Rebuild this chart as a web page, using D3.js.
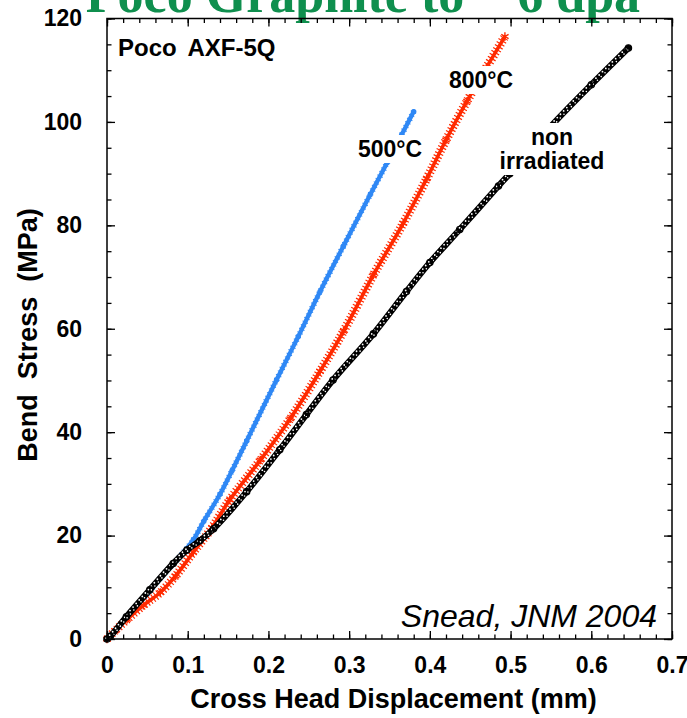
<!DOCTYPE html>
<html><head><meta charset="utf-8">
<script src="https://cdn.jsdelivr.net/npm/d3@7"></script>
<style>body{margin:0;background:#fff}svg{display:block}</style>
</head><body>
<svg id="c" width="687" height="718"></svg>
<script>
// ---- data ----
const xTicks = [0, 0.1, 0.2, 0.3, 0.4, 0.5, 0.6, 0.7];
const yTicks = [0, 20, 40, 60, 80, 100, 120];

// 500°C irradiated
const x500 = [0, 0.01, 0.03, 0.05, 0.07, 0.09, 0.107, 0.12, 0.14, 0.155, 0.173, 0.21, 0.237, 0.264, 0.293, 0.326, 0.347, 0.365, 0.38];
const y500 = [0, 1.5, 5.2, 8.8, 12.5, 15.9, 19.2, 22.8, 28.0, 32.6, 38.3, 50.1, 58.5, 67.2, 76.0, 85.9, 92.1, 97.5, 102];
// 800°C irradiated
const x800 = [0, 0.01, 0.025, 0.045, 0.066, 0.085, 0.107, 0.13, 0.152, 0.19, 0.227, 0.264, 0.293, 0.33, 0.367, 0.396, 0.42, 0.446, 0.47, 0.493];
const y800 = [0, 1.6, 3.8, 6.5, 9.0, 12.2, 16.8, 21.5, 26.9, 34.6, 42.6, 51.8, 59.5, 70.4, 80.4, 89.0, 96.5, 104, 110.5, 116.5];
// non irradiated
const xNon = [0, 0.004, 0.024, 0.053, 0.082, 0.099, 0.115, 0.132, 0.173, 0.214, 0.247, 0.28, 0.33, 0.371, 0.40, 0.437, 0.485, 0.499, 0.549, 0.60, 0.646];
const yNon = [0, 0.5, 4.3, 9.5, 14.6, 17.2, 19.0, 21.3, 28.5, 36.6, 43.4, 50.1, 59.0, 67.2, 72.8, 79.2, 87.6, 90.0, 99.0, 107.2, 114.3];

const titleText = "Poco Graphite to ~ 6 dpa";
const xTitle = "Cross Head Displacement (mm)";
const yTitle = "Bend  Stress  (MPa)";

// ---- drawing ----
const svg = d3.select("#c");
const x = d3.scaleLinear().domain([0, 0.7]).range([107, 672]);
const y = d3.scaleLinear().domain([0, 120]).range([639, 18.5]);
const SANS = "'Liberation Sans', Arial, Helvetica, sans-serif";

// title (cut off at top as in reference)
svg.append("text").attr("x", 363).attr("y", 12).attr("text-anchor", "middle")
  .attr("font-family", "'Liberation Serif', 'Times New Roman', serif").attr("font-weight", "bold")
  .attr("font-size", 52).attr("fill", "#0f8f4e").text(titleText);

const line = d3.line().x(d => x(d[0])).y(d => y(d[1])).curve(d3.curveCatmullRom.alpha(0.5));
const d500 = d3.zip(x500, y500), d800 = d3.zip(x800, y800), dNon = d3.zip(xNon, yNon);

const plot = svg.append("g");
// blue 500°C
plot.append("path").datum(d500).attr("d", line).attr("fill", "none")
  .attr("stroke", "#2f88f5").attr("stroke-width", 4.4).attr("stroke-linejoin", "round").attr("stroke-linecap", "round");
plot.append("path").datum(d500).attr("d", line).attr("fill", "none")
  .attr("stroke", "#2f88f5").attr("stroke-width", 6).attr("stroke-dasharray", "1 3");
plot.append("g").selectAll("circle").data(d500).join("circle")
  .attr("cx", d => x(d[0])).attr("cy", d => y(d[1])).attr("r", 2.7).attr("fill", "#2f88f5");

// red 800°C
plot.append("path").datum(d800).attr("d", line).attr("fill", "none")
  .attr("stroke", "#ff2a00").attr("stroke-width", 3.6).attr("stroke-linejoin", "round");
plot.append("path").datum(d800).attr("d", line).attr("fill", "none")
  .attr("stroke", "#ff2a00").attr("stroke-width", 9).attr("stroke-dasharray", "1.2 2.2");
const star = d3.symbol().type(d3.symbolAsterisk).size(50);
plot.append("g").selectAll("path").data(d800).join("path")
  .attr("transform", d => `translate(${x(d[0])},${y(d[1])})`).attr("d", star)
  .attr("fill", "none").attr("stroke", "#ff2a00").attr("stroke-width", 1.4);

// black non irradiated (open circles)
plot.append("path").datum(dNon).attr("d", line).attr("fill", "none")
  .attr("stroke", "#000").attr("stroke-width", 6.2).attr("stroke-linejoin", "round").attr("stroke-linecap", "round");
plot.append("path").datum(dNon).attr("d", line).attr("fill", "none")
  .attr("stroke", "#fff").attr("stroke-width", 1.8).attr("stroke-dasharray", "0 4.6").attr("stroke-linecap", "round")
  .attr("transform", "translate(-0.9,-0.9)");
plot.append("path").datum(dNon).attr("d", line).attr("fill", "none")
  .attr("stroke", "#fff").attr("stroke-width", 1.6).attr("stroke-dasharray", "0 5.3").attr("stroke-dashoffset", 2.5)
  .attr("stroke-linecap", "round").attr("transform", "translate(0.9,0.9)");
plot.append("g").selectAll("circle").data(dNon).join("circle")
  .attr("cx", d => x(d[0])).attr("cy", d => y(d[1])).attr("r", 3.2).attr("fill", "none")
  .attr("stroke", "#000").attr("stroke-width", 1.2);

// labels with white backgrounds
function label(lines, cx, baseline0, lh, size) {
  const g = svg.append("g");
  const bg = g.append("rect").attr("fill", "#fff");
  const t = g.append("text").attr("font-family", SANS).attr("font-weight", "bold")
    .attr("font-size", size).attr("text-anchor", "middle");
  lines.forEach((s, i) => t.append("tspan").attr("x", cx).attr("y", baseline0 + i * lh).text(s));
  const b = t.node().getBBox();
  bg.attr("x", b.x - 3).attr("y", b.y - 1).attr("width", b.width + 6).attr("height", b.height + 2);
}
label(["800°C"], 481, 88, 0, 23);
label(["500°C"], 390, 157, 0, 23);
label(["non", "irradiated"], 552, 145, 24, 23);

svg.append("text").attr("x", 118).attr("y", 56).attr("font-family", SANS).attr("font-weight", "bold")
  .attr("font-size", 24).attr("word-spacing", 5).text("Poco AXF-5Q");
svg.append("text").attr("x", 657).attr("y", 627).attr("text-anchor", "end").attr("font-family", SANS)
  .attr("font-style", "italic").attr("font-size", 32).text("Snead, JNM 2004");

// axes (ticks inward on all four sides)
function styleAxis(g) {
  g.select(".domain").remove();
  g.selectAll("line").attr("stroke", "#000").attr("stroke-width", 1.3);
  g.attr("font-family", SANS).attr("font-size", 23).attr("font-weight", "bold");
  g.selectAll("text").attr("fill", "#000");
}
const xMinor = d3.range(0, 0.7001, 0.02);
const yMinor = d3.range(0, 120.01, 5);
const fmtX = d => d === 0 ? "0" : d3.format(".1f")(d);

svg.append("g").attr("transform", `translate(0,${y(0)})`)
  .call(d3.axisBottom(x).tickValues(xMinor).tickSize(-4.5).tickFormat("")).call(styleAxis);
svg.append("g").attr("transform", `translate(0,${y(0)})`)
  .call(d3.axisBottom(x).tickValues(xTicks).tickSize(-8).tickPadding(18).tickFormat(fmtX)).call(styleAxis);
svg.append("g").attr("transform", `translate(0,${y(120)})`)
  .call(d3.axisTop(x).tickValues(xMinor).tickSize(-4.5).tickFormat("")).call(styleAxis);
svg.append("g").attr("transform", `translate(0,${y(120)})`)
  .call(d3.axisTop(x).tickValues(xTicks).tickSize(-8).tickFormat("")).call(styleAxis);

svg.append("g").attr("transform", `translate(${x(0)},0)`)
  .call(d3.axisLeft(y).tickValues(yMinor).tickSize(-4.5).tickFormat("")).call(styleAxis);
svg.append("g").attr("transform", `translate(${x(0)},0)`)
  .call(d3.axisLeft(y).tickValues(yTicks).tickSize(-8).tickPadding(25).tickFormat(d3.format("d"))).call(styleAxis);
svg.append("g").attr("transform", `translate(${x(0.7)},0)`)
  .call(d3.axisRight(y).tickValues(yMinor).tickSize(-4.5).tickFormat("")).call(styleAxis);
svg.append("g").attr("transform", `translate(${x(0.7)},0)`)
  .call(d3.axisRight(y).tickValues(yTicks).tickSize(-8).tickFormat("")).call(styleAxis);

// frame
svg.append("rect").attr("x", x(0)).attr("y", y(120)).attr("width", x(0.7) - x(0)).attr("height", y(0) - y(120))
  .attr("fill", "none").attr("stroke", "#000").attr("stroke-width", 1.5);

// axis titles
svg.append("text").attr("x", (x(0) + x(0.7)) / 2 + 4).attr("y", 708).attr("text-anchor", "middle")
  .attr("font-family", SANS).attr("font-weight", "bold").attr("font-size", 27).text(xTitle);
svg.append("text").attr("transform", "translate(36.5,335) rotate(-90)").attr("text-anchor", "middle")
  .attr("font-family", SANS).attr("font-weight", "bold").attr("font-size", 27)
  .attr("xml:space", "preserve").style("white-space", "pre").text(yTitle);
</script>
</body></html>
